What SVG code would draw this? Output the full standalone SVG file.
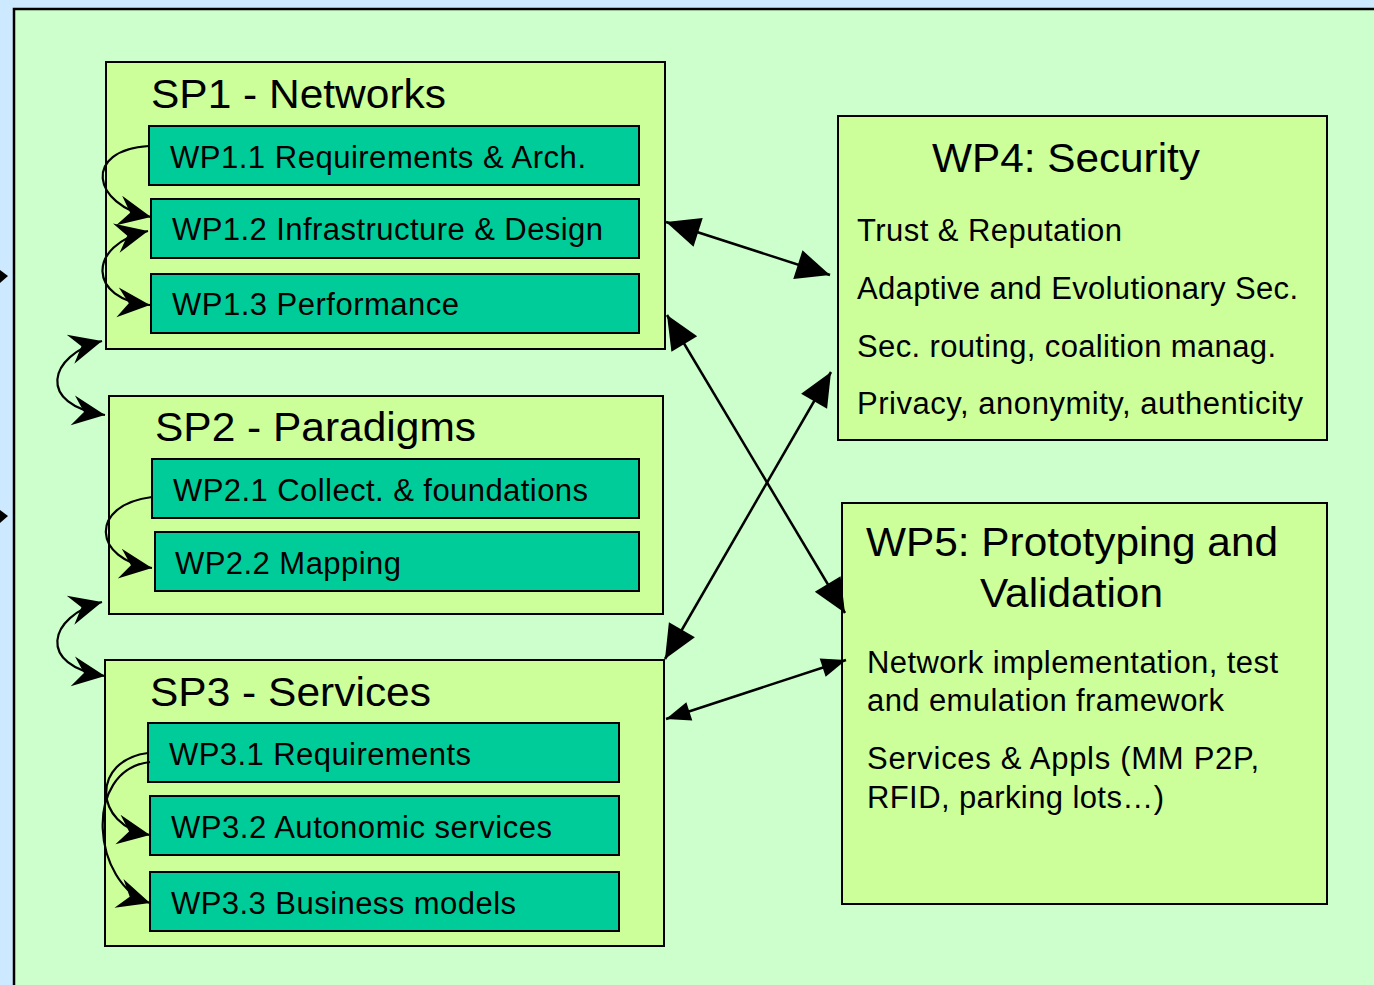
<svg xmlns="http://www.w3.org/2000/svg" width="1374" height="985" viewBox="0 0 1374 985">
<defs>
<style>
.sp{fill:#CCFF99;stroke:#000;stroke-width:2}
.wp{fill:#00CC99;stroke:#000;stroke-width:2}
.t{font-family:"Liberation Sans",Arial,sans-serif;fill:#000}
.title{font-size:41.5px}
.lbl{font-size:31px}
.con{fill:none;stroke:#000;stroke-width:2.5}
.loop{fill:none;stroke:#000;stroke-width:2.2}
</style>
<marker id="tri" markerUnits="userSpaceOnUse" markerWidth="40" markerHeight="40" viewBox="-30 -15 32 30" refX="0" refY="0" orient="auto-start-reverse">
<path d="M0,0 L-27,-12 L-27,12 Z" fill="#000"/>
</marker>
<marker id="tris" markerUnits="userSpaceOnUse" markerWidth="30" markerHeight="30" viewBox="-20 -10 22 20" refX="0" refY="0" orient="auto-start-reverse">
<path d="M0,0 L-18,-7 L-18,7 Z" fill="#000"/>
</marker>
<marker id="stl" markerUnits="userSpaceOnUse" markerWidth="40" markerHeight="40" viewBox="-30 -15 32 30" refX="0" refY="0" orient="auto-start-reverse">
<path d="M0,0 L-26,-12 L-17,0 L-26,12 Z" fill="#000"/>
</marker>
</defs>
<rect x="0" y="0" width="1374" height="985" fill="#CCE9FF"/>
<rect id="panel" x="14" y="9" width="1380" height="990" fill="#CCFFCC" stroke="#000" stroke-width="2.5"/>
<path d="M0,270 L8,276 L0,283 Z" fill="#000"/>
<path d="M0,510 L8,516 L0,523 Z" fill="#000"/>

<g id="sp1">
<rect class="sp" x="106" y="62" width="559" height="287"/>
<text class="t title" x="151" y="108" textLength="295" lengthAdjust="spacingAndGlyphs">SP1 - Networks</text>
</g>
<g id="wp1-1"><rect class="wp" x="149" y="126" width="490" height="59"/><text class="t lbl" x="170" y="168" textLength="416">WP1.1 Requirements &amp; Arch.</text></g>
<g id="wp1-2"><rect class="wp" x="151" y="199" width="488" height="59"/><text class="t lbl" x="172" y="240" textLength="431">WP1.2 Infrastructure &amp; Design</text></g>
<g id="wp1-3"><rect class="wp" x="151" y="274" width="488" height="59"/><text class="t lbl" x="172" y="315" textLength="287">WP1.3 Performance</text></g>

<g id="sp2">
<rect class="sp" x="109" y="396" width="554" height="218"/>
<text class="t title" x="155" y="441" textLength="321" lengthAdjust="spacingAndGlyphs">SP2 - Paradigms</text>
</g>
<g id="wp2-1"><rect class="wp" x="152" y="459" width="487" height="59"/><text class="t lbl" x="173" y="501" textLength="415">WP2.1 Collect. &amp; foundations</text></g>
<g id="wp2-2"><rect class="wp" x="155" y="532" width="484" height="59"/><text class="t lbl" x="175" y="574" textLength="226">WP2.2 Mapping</text></g>

<g id="sp3">
<rect class="sp" x="105" y="660" width="559" height="286"/>
<text class="t title" x="150" y="706" textLength="281" lengthAdjust="spacingAndGlyphs">SP3 - Services</text>
</g>
<g id="wp3-1"><rect class="wp" x="148" y="723" width="471" height="59"/><text class="t lbl" x="169" y="765" textLength="302">WP3.1 Requirements</text></g>
<g id="wp3-2"><rect class="wp" x="150" y="796" width="469" height="59"/><text class="t lbl" x="171" y="838" textLength="381">WP3.2 Autonomic services</text></g>
<g id="wp3-3"><rect class="wp" x="150" y="872" width="469" height="59"/><text class="t lbl" x="171" y="914" textLength="345">WP3.3 Business models</text></g>

<g id="wp4">
<rect class="sp" x="838" y="116" width="489" height="324"/>
<text class="t title" x="932" y="172" textLength="268" lengthAdjust="spacingAndGlyphs">WP4: Security</text>
<text class="t lbl" x="857" y="241" textLength="265">Trust &amp; Reputation</text>
<text class="t lbl" x="857" y="299" textLength="441">Adaptive and Evolutionary Sec.</text>
<text class="t lbl" x="857" y="357" textLength="419">Sec. routing, coalition manag.</text>
<text class="t lbl" x="857" y="414" textLength="446">Privacy, anonymity, authenticity</text>
</g>

<g id="wp5">
<rect class="sp" x="842" y="503" width="485" height="401"/>
<text class="t title" x="866" y="556" textLength="412" lengthAdjust="spacingAndGlyphs">WP5: Prototyping and</text>
<text class="t title" x="980" y="607" textLength="183" lengthAdjust="spacingAndGlyphs">Validation</text>
<text class="t lbl" x="867" y="673" textLength="411">Network implementation, test</text>
<text class="t lbl" x="867" y="711" textLength="357">and emulation framework</text>
<text class="t lbl" x="867" y="769" textLength="392">Services &amp; Appls (MM P2P,</text>
<text class="t lbl" x="867" y="808" textLength="297">RFID, parking lots…)</text>
</g>

<g id="connectors">
<line class="con" x1="666" y1="222" x2="830" y2="275" marker-start="url(#tri)" marker-end="url(#tri)"/>
<line class="con" x1="667" y1="315" x2="845" y2="613" marker-start="url(#tri)" marker-end="url(#tri)"/>
<line class="con" x1="665" y1="659" x2="831" y2="372" marker-start="url(#tri)" marker-end="url(#tri)"/>
<line class="con" x1="666" y1="719" x2="846" y2="660" marker-start="url(#tris)" marker-end="url(#tris)"/>

<path class="loop" d="M102,341 C48,355 36,405 105,415" marker-start="url(#stl)" marker-end="url(#stl)"/>
<path class="loop" d="M102,602 C48,616 36,666 105,676" marker-start="url(#stl)" marker-end="url(#stl)"/>

<path class="loop" d="M149,146 C82,150 92,205 151,217" marker-end="url(#stl)"/>
<path class="loop" d="M148,231 C86,245 88,300 150,305" marker-start="url(#stl)" marker-end="url(#stl)"/>
<path class="loop" d="M152,497 C88,505 93,560 152,568" marker-end="url(#stl)"/>
<path class="loop" d="M148,753 C92,760 92,825 150,835" marker-end="url(#stl)"/>
<path class="loop" d="M150,762 C82,770 92,885 150,903" marker-end="url(#stl)"/>
</g>
</svg>
